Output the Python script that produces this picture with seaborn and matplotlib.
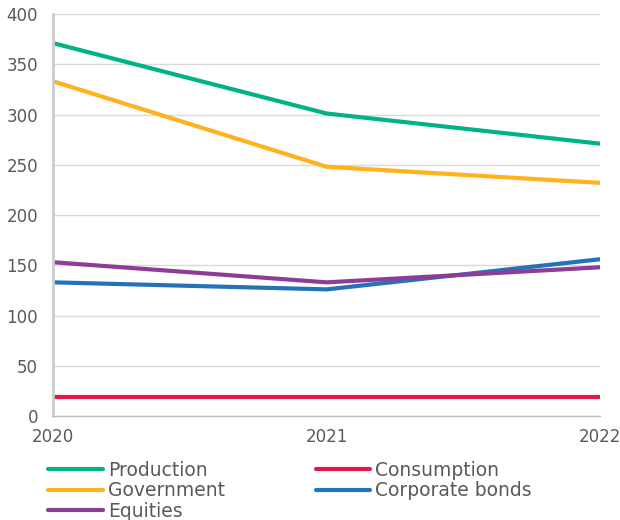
import matplotlib
matplotlib.use("Agg")
import matplotlib.pyplot as plt
import seaborn as sns
import pandas as pd
from matplotlib.lines import Line2D

years = [2020, 2021, 2022]
production = [371, 301, 271]
consumption = [19, 19, 19]
government = [333, 248, 232]
corporate_bonds = [133, 126, 156]
equities = [153, 133, 148]

series_names = ["Production", "Consumption", "Government", "Corporate bonds", "Equities"]
series_values = [production, consumption, government, corporate_bonds, equities]
colors = ["#00B386", "#E3194B", "#FFB21A", "#2472B9", "#8E3D96"]
y_ticks = [0, 50, 100, 150, 200, 250, 300, 350, 400]

rows = []
for name, vals in zip(series_names, series_values):
    for y, v in zip(years, vals):
        rows.append({"Year": y, "Value": v, "Series": name})
df = pd.DataFrame(rows)

sns.set_theme(style="white")
plt.rcParams['font.family'] = ['DejaVu Sans']
text_color = "#595959"

fig = plt.figure(figsize=(6.2, 5.2), dpi=100)
ax = fig.add_axes([0.086, 0.2, 0.882, 0.773])

sns.lineplot(data=df, x="Year", y="Value", hue="Series", hue_order=series_names,
             palette=dict(zip(series_names, colors)), linewidth=3, ax=ax,
             legend=False, solid_capstyle="round")

ax.set_xlim(2020, 2022)
ax.set_ylim(0, 400)
ax.set_xticks(years)
ax.set_xticklabels([str(y) for y in years])
ax.set_yticks(y_ticks)
ax.yaxis.grid(True, color="#D9D9D9", linewidth=1)
ax.set_axisbelow(True)
ax.set_xlabel("")
ax.set_ylabel("")
for s in ["top", "right"]:
    ax.spines[s].set_visible(False)
ax.spines["left"].set_color("#CCCCCC")
ax.spines["left"].set_linewidth(2)
ax.spines["bottom"].set_color("#BFBFBF")
ax.spines["bottom"].set_linewidth(1)
ax.tick_params(axis="both", length=0, labelsize=12, colors=text_color)
ax.tick_params(axis="x", pad=9)
ax.tick_params(axis="y", pad=11)

order = [0, 2, 4, 1, 3]
handles = [Line2D([0], [0], color=colors[i], linewidth=3, solid_capstyle="round") for i in order]
labels = [series_names[i] for i in order]
leg = fig.legend(handles, labels, loc="upper left", bbox_to_anchor=(0.078, 0.114),
                 ncol=2, frameon=False, fontsize=13.5, handlelength=2.9,
                 handletextpad=0.27, columnspacing=4.85, labelspacing=0.08,
                 borderaxespad=0, borderpad=0)
for t in leg.get_texts():
    t.set_color(text_color)

fig.savefig("out.png", dpi=100)
